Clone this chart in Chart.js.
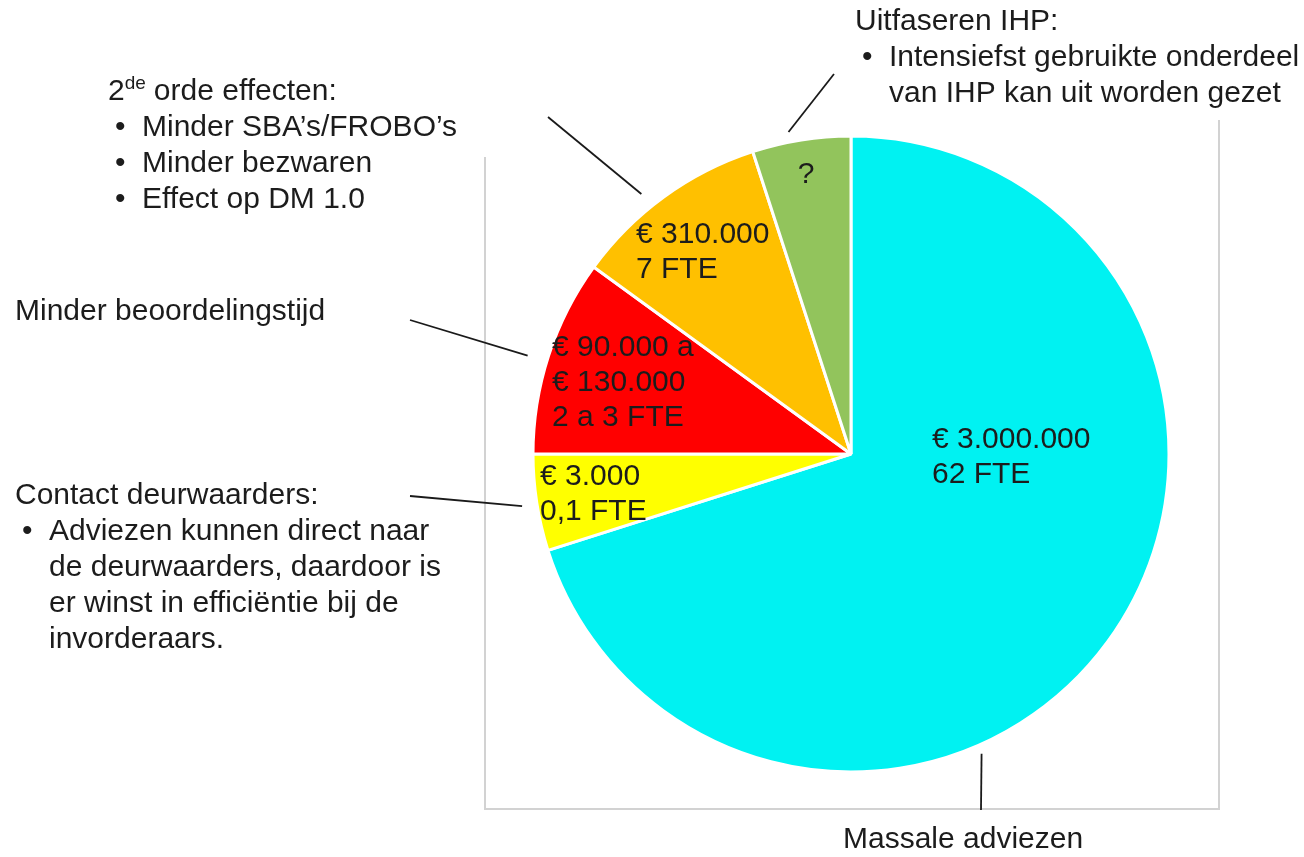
<!DOCTYPE html>
<html>
<head>
<meta charset="utf-8">
<script src="https://cdn.jsdelivr.net/npm/chart.js@4.4.1/dist/chart.umd.min.js"></script>
<style>
  html, body { margin: 0; padding: 0; background: #fff; }
  #wrap { position: relative; width: 1304px; height: 857px; }
</style>
</head>
<body>
<div id="wrap"><canvas id="costChart" width="1304" height="857"></canvas></div>
<script>
// Besparingen per onderdeel (aandeel in de taart)
const segments = ['Massale adviezen', 'Contact deurwaarders', 'Minder beoordelingstijd', '2de orde effecten', 'Uitfaseren IHP'];
const shares = [70.1, 4.9, 10.0, 10.0, 5.0];
const sliceColors = ['#00F2F2', '#FFFF00', '#FF0000', '#FFC000', '#92C45C'];
const sliceLabels = [
    ['€ 3.000.000', '62 FTE'],
    ['€ 3.000', '0,1 FTE'],
    ['€ 90.000 a', '€ 130.000', '2 a 3 FTE'],
    ['€ 310.000', '7 FTE'],
    ['?']
];

const FONT = '30px "Liberation Sans", Arial, sans-serif';
const TEXT = '#1c1c1c';
const LINE_H = 36;

// label offsets from the pie centre
const sliceLabelPos = [
    { dx: 81, dy: -14, align: 'left' },
    { dx: -311, dy: 23, align: 'left' },
    { dx: -299, dy: -106, align: 'left' },
    { dx: -215, dy: -219, align: 'left' },
    { dx: -45, dy: -279, align: 'center' }
];

// callout texts around the chart
const notes = [
    { x: 843, y: 840, lines: [{ text: 'Massale adviezen' }] },
    { x: 855, y: 22, lines: [
        { text: 'Uitfaseren IHP:' },
        { text: 'Intensiefst gebruikte onderdeel', bullet: true },
        { text: 'van IHP kan uit worden gezet', indent: true }
    ] },
    { x: 108, y: 92, lines: [
        { text: 'orde effecten:', sup: true },
        { text: 'Minder SBA’s/FROBO’s', bullet: true },
        { text: 'Minder bezwaren', bullet: true },
        { text: 'Effect op DM 1.0', bullet: true }
    ] },
    { x: 15, y: 312, lines: [{ text: 'Minder beoordelingstijd' }] },
    { x: 15, y: 496, lines: [
        { text: 'Contact deurwaarders:' },
        { text: 'Adviezen kunnen direct naar', bullet: true },
        { text: 'de deurwaarders, daardoor is', indent: true },
        { text: 'er winst in efficiëntie bij de', indent: true },
        { text: 'invorderaars.', indent: true }
    ] }
];

// leader lines: slice, position along the slice (0..1), gap from the rim, outer end
const leaders = [
    { slice: 0, t: 0.62, gap: 9, to: [981, 810] },
    { slice: 1, t: 0.49, gap: 15, to: [410, 496] },
    { slice: 2, t: 0.47, gap: 20, to: [410, 320] },
    { slice: 3, t: 0.42, gap: 16, to: [548, 117] },
    { slice: 4, t: 0.39, gap: 10, to: [834, 74] }
];

const framePlugin = {
    id: 'frame',
    beforeDraw(chart) {
        const ctx = chart.ctx;
        ctx.save();
        ctx.strokeStyle = '#d2d2d2';
        ctx.lineWidth = 2;
        ctx.beginPath();
        ctx.moveTo(485, 157);
        ctx.lineTo(485, 809);
        ctx.lineTo(1219, 809);
        ctx.lineTo(1219, 120);
        ctx.stroke();
        ctx.restore();
    }
};

const annotationPlugin = {
    id: 'annotations',
    afterDraw(chart) {
        const ctx = chart.ctx;
        const arcs = chart.getDatasetMeta(0).data;
        const cx = arcs[0].x, cy = arcs[0].y;
        ctx.save();
        ctx.font = FONT;
        ctx.fillStyle = TEXT;
        ctx.textBaseline = 'middle';

        // values inside the slices
        sliceLabels.forEach((lines, i) => {
            const p = sliceLabelPos[i];
            ctx.textAlign = p.align;
            lines.forEach((line, j) => {
                ctx.fillText(line, cx + p.dx, cy + p.dy + j * 35);
            });
        });

        // leader lines
        ctx.strokeStyle = '#1a1a1a';
        ctx.lineWidth = 1.8;
        leaders.forEach(l => {
            const a = arcs[l.slice];
            const ang = a.startAngle + l.t * (a.endAngle - a.startAngle);
            const r = a.outerRadius + l.gap;
            ctx.beginPath();
            ctx.moveTo(cx + r * Math.cos(ang), cy + r * Math.sin(ang));
            ctx.lineTo(l.to[0], l.to[1]);
            ctx.stroke();
        });

        // callout texts
        ctx.textAlign = 'left';
        notes.forEach(n => {
            n.lines.forEach((line, j) => {
                const y = n.y + j * LINE_H;
                let x = n.x;
                if (line.bullet) {
                    ctx.fillText('•', x + 7, y);
                    x += 34;
                } else if (line.indent) {
                    x += 34;
                }
                if (line.sup) {
                    ctx.fillText('2', x, y);
                    const w2 = ctx.measureText('2').width;
                    ctx.font = '19px "Liberation Sans", Arial, sans-serif';
                    ctx.fillText('de', x + w2, y - 8);
                    const wd = ctx.measureText('de').width;
                    ctx.font = FONT;
                    x += w2 + wd + 8;
                }
                ctx.fillText(line.text, x, y);
            });
        });
        ctx.restore();
    }
};

new Chart(document.getElementById('costChart'), {
    type: 'pie',
    data: {
        labels: segments,
        datasets: [{
            data: shares,
            backgroundColor: sliceColors,
            borderColor: '#ffffff',
            borderWidth: 3
        }]
    },
    options: {
        responsive: false,
        animation: false,
        radius: 318,
        layout: {
            padding: { left: 534, right: 136, top: 137, bottom: 86 }
        },
        plugins: {
            legend: { display: false },
            tooltip: { enabled: false }
        }
    },
    plugins: [framePlugin, annotationPlugin]
});
</script>
</body>
</html>
